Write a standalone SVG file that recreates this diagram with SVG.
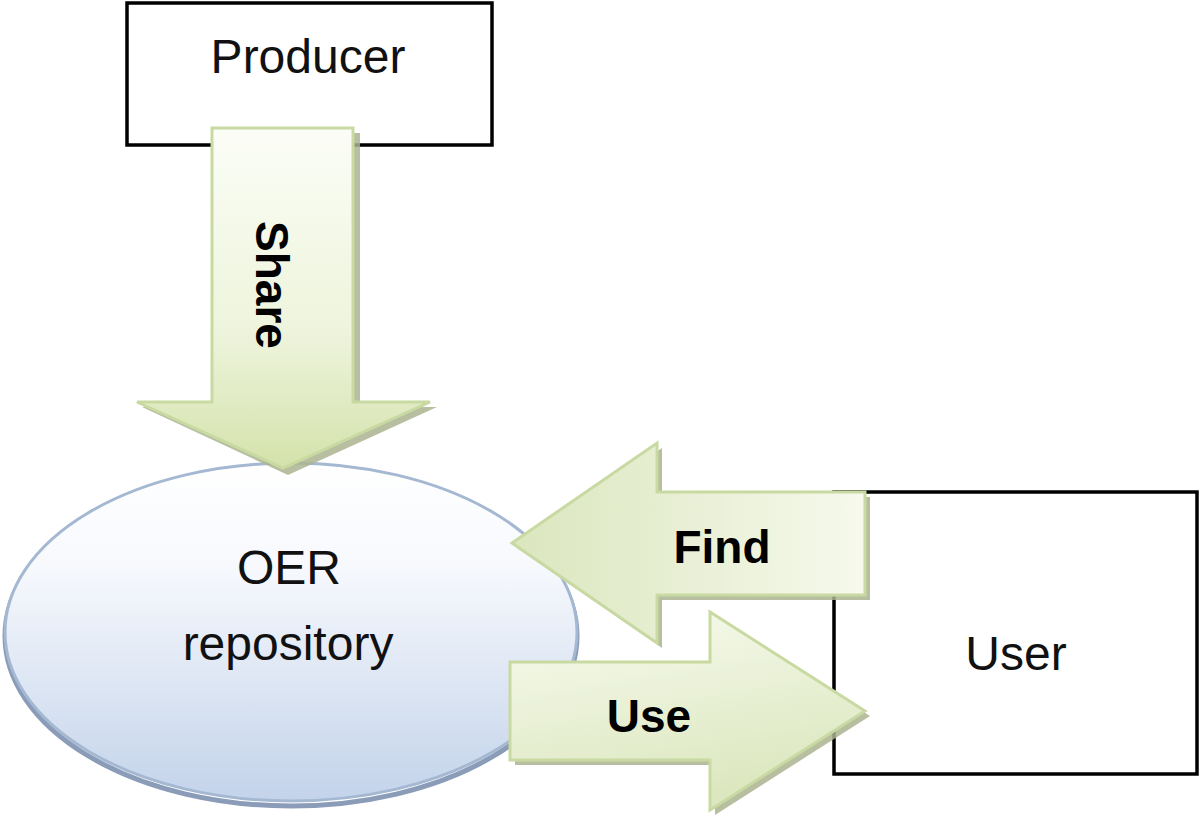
<svg xmlns="http://www.w3.org/2000/svg" width="1200" height="824" viewBox="0 0 1200 824">
<style>
.box{fill:#fff;stroke:#000;stroke-width:3.5}
.lbl{font-family:"Liberation Sans",Arial,sans-serif;font-size:48px;fill:#111;text-anchor:middle}
.blbl{font-family:"Liberation Sans",Arial,sans-serif;font-size:46px;font-weight:bold;fill:#000;text-anchor:middle}
.arrow{stroke:#c9d9a2;stroke-width:3;stroke-linejoin:miter}
.shadow{fill:#aab48f;opacity:0.85}
</style>
<defs>
<linearGradient id="gShare" x1="0" y1="0" x2="0" y2="1">
<stop offset="0" stop-color="#fbfdf6"/>
<stop offset="0.6" stop-color="#eef4dc"/>
<stop offset="1" stop-color="#d4e2ab"/>
</linearGradient>
<linearGradient id="gFind" x1="0" y1="0" x2="1" y2="0">
<stop offset="0" stop-color="#dbe6be"/>
<stop offset="1" stop-color="#f6f9ec"/>
</linearGradient>
<linearGradient id="gUse" x1="0" y1="0" x2="0.3" y2="1">
<stop offset="0" stop-color="#f8fbef"/>
<stop offset="1" stop-color="#dce7bf"/>
</linearGradient>
<linearGradient id="gEll" x1="0" y1="0" x2="0" y2="1">
<stop offset="0" stop-color="#ffffff"/>
<stop offset="0.3" stop-color="#f7f9fd"/>
<stop offset="1" stop-color="#c3d3ea"/>
</linearGradient>
</defs>

<g id="producer">
<rect class="box" x="127" y="3" width="365" height="142"/>
<text class="lbl" x="308" y="73">Producer</text>
</g>

<g id="user">
<rect class="box" x="834" y="492" width="363" height="282"/>
<text class="lbl" x="1016" y="670">User</text>
</g>

<g id="oer-repository">
<ellipse cx="291" cy="636" rx="286" ry="170" fill="none" stroke="#8a9cb8" stroke-width="5"/>
<ellipse cx="291" cy="632" rx="286" ry="169" fill="url(#gEll)" stroke="#a5b8d2" stroke-width="3"/>
<text class="lbl" x="289" y="584">OER</text>
<text class="lbl" x="288" y="660">repository</text>
</g>

<g id="connectors">
<g id="share">
<polygon class="shadow" points="218,133 360,133 360,407 437,407 288,475 142,407 218,407"/>
<polygon class="arrow" fill="url(#gShare)" points="212,128 353,128 353,402 430,402 283,468 137,402 212,402"/>
<text class="blbl" transform="translate(256,285) rotate(90)">Share</text>
</g>
<g id="find">
<polygon class="shadow" points="870,497 662,497 662,448 517,548 662,648 662,600 870,600"/>
<polygon class="arrow" fill="url(#gFind)" points="865,492 657,492 657,443 512,543 657,643 657,595 865,595"/>
<text class="blbl" x="722" y="563">Find</text>
</g>
<g id="use">
<polygon class="shadow" points="515,667 715,667 715,617 870,716 715,815 715,765 515,765"/>
<polygon class="arrow" fill="url(#gUse)" points="510,662 710,662 710,612 865,711 710,810 710,760 510,760"/>
<text class="blbl" x="649" y="732">Use</text>
</g>
</g>
</svg>
